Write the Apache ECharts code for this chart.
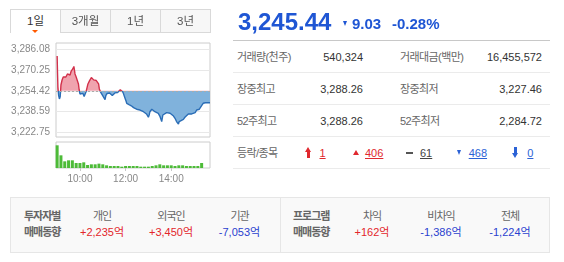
<!DOCTYPE html>
<html lang="ko"><head><meta charset="utf-8">
<script src="https://cdn.jsdelivr.net/npm/echarts@6.0.0/dist/echarts.min.js"></script>
<style>
html,body{margin:0;padding:0;background:#fff}
body{width:564px;height:262px;position:relative;overflow:hidden;font-family:'Liberation Sans','Noto Sans CJK KR',sans-serif;color:#333}
.a{position:absolute;white-space:nowrap}
.tab{position:absolute;top:9px;width:51px;height:24px;box-sizing:border-box;border:1px solid #d9d9d9;background:#f7f7f7;color:#555;font-size:11.5px;line-height:22px;text-align:center}
.tab.on{background:#fff;border-bottom:none;color:#333}
#chart{position:absolute;left:0;top:0;width:220px;height:195px}
.hl{position:absolute;left:233px;width:317px;height:1px;background:#ebebeb}
.t{position:absolute;height:16px;line-height:16px;white-space:nowrap;font-size:11px}
.lbl{color:#666;letter-spacing:-0.6px}
.val{color:#333;text-align:right;width:120px}
.box{position:absolute;top:197px;height:56px;box-sizing:border-box;border:1px solid #e6e6e6;background:#f9f9f9}
.bl{color:#666;font-weight:bold;letter-spacing:-1px}
.c{text-align:center;width:100px}
.red{color:#e3262b}.blue{color:#2a41cf}
</style></head>
<body>
<div id="chart"></div>
<div id="ui"></div>
<script>
// ---------- data ----------
const prevClose = 3254.47;
const yTickValues = [3222.75, 3238.59, 3254.42, 3270.25, 3286.08];
const xTickMinutes = [60, 180, 300];           // minutes after 09:00
const xTickLabels = ['10:00', '12:00', '14:00'];
const priceMinutes = [0,1,2,3,4,6,8,9,10,13,16,20,23,27,30,34,37,41,44,47,50,53,56,58,60,63,65,68,71,73,76,78,81,83,85,88,90,93,96,98,101,103,106,109,111,114,117,121,124,126,128,131,134,138,142,145,149,152,156,159,163,166,170,173,176,179,181,183,185,187,189,192,195,198,201,205,209,213,218,222,227,231,235,238,240,242,244,249,253,257,262,266,270,273,275,278,282,288,292,297,301,306,310,314,317,319,321,326,332,336,341,345,349,354,358,363,367,371,374,380,384,390,402];
const prices = [3281.0,3268.0,3257.5,3254.0,3250.8,3248.3,3250.0,3254.0,3258.9,3262.7,3265.0,3266.5,3265.0,3267.3,3268.0,3266.5,3269.5,3271.1,3273.0,3267.3,3265.0,3263.5,3259.7,3255.1,3252.1,3252.9,3251.4,3252.5,3250.2,3251.4,3253.7,3255.2,3259.7,3258.2,3262.0,3263.5,3264.6,3263.8,3262.8,3264.3,3263.5,3262.3,3262.0,3259.7,3255.9,3253.7,3252.6,3250.2,3249.0,3247.7,3250.8,3252.4,3252.0,3252.8,3252.2,3251.0,3252.4,3252.9,3251.6,3253.2,3252.7,3255.3,3254.8,3253.5,3252.0,3248.5,3246.9,3245.0,3244.4,3245.2,3244.0,3243.8,3243.1,3242.3,3241.7,3241.0,3240.5,3240.8,3239.9,3239.4,3238.6,3237.4,3236.9,3235.5,3234.4,3236.1,3238.6,3240.5,3239.4,3238.6,3237.9,3237.4,3235.3,3232.8,3231.1,3236.1,3237.4,3237.9,3238.6,3237.4,3236.1,3235.3,3233.6,3231.1,3230.0,3229.3,3231.1,3231.8,3232.8,3234.4,3234.8,3236.9,3237.4,3236.9,3237.9,3237.9,3239.9,3241.3,3240.5,3243.3,3245.0,3245.44,3245.44];
const volumeMinutes = [0,10,20,30,40,50,60,70,80,90,100,110,120,130,140,150,160,170,180,190,200,210,220,230,240,250,260,270,280,290,300,310,320,330,340,350,360,370,380];
const volumes = [81600,45600,24000,27600,27600,18000,18000,20400,10800,13200,13200,15600,13200,9600,7200,7200,7200,4800,7200,7200,7200,7200,4800,4800,4800,7200,9600,13200,9600,9600,9600,7200,9600,9600,7200,7200,7200,7200,18000];

const tabLabels = ['1일', '3개월', '1년', '3년'];
const indexValue = '3,245.44';
const changeValue = '9.03';
const changeRate = '-0.28%';
const statLabelsLeft = ['거래량(천주)', '장중최고', '52주최고'];
const statValuesLeft = ['540,324', '3,288.26', '3,288.26'];
const statLabelsRight = ['거래대금(백만)', '장중최저', '52주최저'];
const statValuesRight = ['16,455,572', '3,227.46', '2,284.72'];
const breadthLabel = '등락/종목';
const breadthCounts = ['1', '406', '61', '468', '0'];   // 상한, 상승, 보합, 하락, 하한
const investorTitle = ['투자자별', '매매동향'];
const investorNames = ['개인', '외국인', '기관'];
const investorValues = ['+2,235억', '+3,450억', '-7,053억'];
const programTitle = ['프로그램', '매매동향'];
const programNames = ['차익', '비차익', '전체'];
const programValues = ['+162억', '-1,386억', '-1,224억'];

// ---------- UI (text panels) ----------
const ui = document.getElementById('ui');
function el(html){ ui.insertAdjacentHTML('beforeend', html); }
function txt(cls, x, cy, s, extra){ el(`<div class="t ${cls}" style="left:${x}px;top:${cy-8}px;${extra||''}">${s}</div>`); }

tabLabels.forEach((s,i)=>{ el(`<div class="tab${i===0?' on':''}" style="left:${10+50*i}px">${s}</div>`); });
el(`<div class="a" style="left:32px;top:30px;width:0;height:0;border-left:3px solid transparent;border-right:3px solid transparent;border-top:3px solid #ff5a00"></div>`);

// header
el(`<div class="a" style="left:238px;top:10px;height:24px;line-height:24px;font-size:24px;font-weight:bold;color:#1f56d4">${indexValue}</div>`);
el(`<div class="a" style="left:343px;top:21px;width:0;height:0;border-left:2.6px solid transparent;border-right:2.6px solid transparent;border-top:5px solid #1f56d4"></div>`);
el(`<div class="a" style="left:352px;top:16px;height:16px;line-height:16px;font-size:15px;font-weight:bold;color:#1f56d4">${changeValue}</div>`);
el(`<div class="a" style="left:392px;top:16px;height:16px;line-height:16px;font-size:15px;font-weight:bold;color:#1f56d4">${changeRate}</div>`);

// table lines
el(`<div class="hl" style="top:40px;background:#c8c8c8"></div>`);
[72,104,136,168].forEach(y=>el(`<div class="hl" style="top:${y}px"></div>`));
const rowCy = [57, 89, 121, 153];
statLabelsLeft.forEach((s,i)=>{
  txt('lbl', 237, rowCy[i], s);
  txt('val', 363-120, rowCy[i], statValuesLeft[i]);
  txt('lbl', 400, rowCy[i], statLabelsRight[i]);
  txt('val', 542-120, rowCy[i], statValuesRight[i]);
});
// breadth row
const by = rowCy[3];
txt('lbl', 237, by, breadthLabel);
const cRed = '#e0282e', cGray = '#444', cBlue = '#2b62d6';
el(`<div class="a" style="left:305px;top:147px;width:0;height:0;border-left:3.5px solid transparent;border-right:3.5px solid transparent;border-bottom:5px solid ${cRed}"></div>`);
el(`<div class="a" style="left:307.3px;top:151.5px;width:2.4px;height:6.5px;background:${cRed}"></div>`);
txt('', 319.5, by, breadthCounts[0], `color:${cRed};text-decoration:underline`);
el(`<div class="a" style="left:352.5px;top:150px;width:0;height:0;border-left:3px solid transparent;border-right:3px solid transparent;border-bottom:5.5px solid ${cRed}"></div>`);
txt('', 365, by, breadthCounts[1], `color:${cRed};text-decoration:underline`);
el(`<div class="a" style="left:406px;top:151.5px;width:7px;height:2px;background:#555"></div>`);
txt('', 420, by, breadthCounts[2], `color:${cGray};text-decoration:underline`);
el(`<div class="a" style="left:456.5px;top:150px;width:0;height:0;border-left:2.7px solid transparent;border-right:2.7px solid transparent;border-top:5px solid ${cBlue}"></div>`);
txt('', 468.7, by, breadthCounts[3], `color:${cBlue};text-decoration:underline`);
el(`<div class="a" style="left:514.3px;top:147px;width:2.4px;height:6.5px;background:${cBlue}"></div>`);
el(`<div class="a" style="left:512px;top:153px;width:0;height:0;border-left:3.5px solid transparent;border-right:3.5px solid transparent;border-top:5px solid ${cBlue}"></div>`);
txt('', 527.3, by, breadthCounts[4], `color:${cBlue};text-decoration:underline`);

// bottom boxes
el(`<div class="box" style="left:10px;width:271px"></div>`);
el(`<div class="box" style="left:280px;width:270px"></div>`);
txt('bl', 24, 216, investorTitle[0]); txt('bl', 24, 231.5, investorTitle[1]);
txt('bl', 293, 216, programTitle[0]); txt('bl', 293, 231.5, programTitle[1]);
const invX = [102, 171, 239.5];
investorNames.forEach((s,i)=>{
  txt('c lbl', invX[i]-50, 216, s, 'letter-spacing:-1px');
  txt('c ' + (investorValues[i][0]==='+'?'red':'blue'), invX[i]-50, 231.5, investorValues[i]);
});
const prgX = [372, 441, 510];
programNames.forEach((s,i)=>{
  txt('c lbl', prgX[i]-50, 216, s, 'letter-spacing:-1px');
  txt('c ' + (programValues[i][0]==='+'?'red':'blue'), prgX[i]-50, 231.5, programValues[i]);
});

// ---------- chart ----------
function fmt(v){ const s = Number(v).toFixed(2).split('.'); return s[0].replace(/\B(?=(\d{3})+(?!\d))/g, ',') + '.' + s[1]; }
const pricePairs = priceMinutes.map((m,i)=>[m, prices[i]]);
const volPairs = volumeMinutes.map((m,i)=>[m, volumes[i]]);
const yMin = 3219.38, yMax = 3290.83;

const chart = echarts.init(document.getElementById('chart'), null, {renderer:'canvas'});
chart.setOption({
  animation: false,
  grid: [
    {left:56, top:43, width:154, height:94, show:true, borderColor:'#cccccc', borderWidth:1, backgroundColor:'rgba(0,0,0,0)'},
    {left:56, top:142, width:154, height:26, show:true, borderColor:'#cccccc', borderWidth:1, backgroundColor:'rgba(0,0,0,0)'}
  ],
  xAxis: [
    {type:'value', gridIndex:0, min:-3, max:402, axisLine:{show:false}, axisTick:{show:false}, axisLabel:{show:false}, splitLine:{show:false}},
    {type:'value', gridIndex:1, min:-3, max:402, axisLine:{show:false}, splitLine:{show:false},
     axisTick:{show:true, customValues:xTickMinutes, length:3, lineStyle:{color:'#c8c8c8'}},
     axisLabel:{customValues:xTickMinutes, formatter:(v)=>xTickLabels[xTickMinutes.indexOf(v)], color:'#888', fontSize:10, margin:6, fontFamily:'Liberation Sans'}}
  ],
  yAxis: [
    {type:'value', gridIndex:0, min:yMin, max:yMax, axisLine:{show:false},
     axisTick:{show:false, customValues:yTickValues},
     axisLabel:{customValues:yTickValues, formatter:fmt, color:'#888', fontSize:10, margin:6, fontFamily:'Liberation Sans'},
     splitLine:{show:true, lineStyle:{color:'#e8e8e8', width:1}}},
    {type:'value', gridIndex:1, min:0, max:93500, axisLine:{show:false}, axisTick:{show:false}, axisLabel:{show:false}, splitLine:{show:false}}
  ],
  visualMap: [
    {type:'piecewise', show:false, seriesIndex:0, dimension:1,
     pieces:[{gt:prevClose, lte:yMax+100, color:'#f0a3ae'},{gte:yMin-100, lte:prevClose, color:'#80b2dc'}]},
    {type:'piecewise', show:false, seriesIndex:1, dimension:1,
     pieces:[{gt:prevClose, lte:yMax+100, color:'#d2314b'},{gte:yMin-100, lte:prevClose, color:'#2a6db6'}]}
  ],
  series: [
    {type:'line', xAxisIndex:0, yAxisIndex:0, data:pricePairs, symbol:'none', z:2,
     lineStyle:{width:0, opacity:0}, areaStyle:{origin:prevClose, opacity:1}},
    {type:'line', xAxisIndex:0, yAxisIndex:0, data:pricePairs, symbol:'none', z:4,
     lineStyle:{width:1.4},
     markLine:{silent:true, symbol:'none', label:{show:false}, lineStyle:{type:[2,2], color:'#aaaaaa', width:1}, data:[{yAxis:prevClose}]}},
    {type:'bar', xAxisIndex:1, yAxisIndex:1, data:volPairs, barWidth:3, itemStyle:{color:'#4dbb38'}}
  ]
});
</script>
</body></html>
